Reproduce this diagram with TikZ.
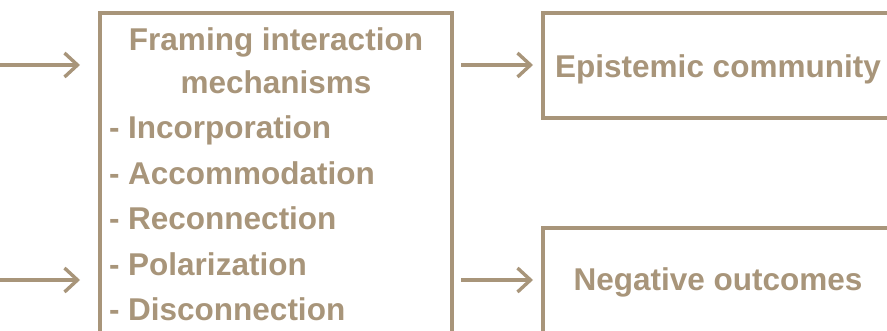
\documentclass[tikz,border=0pt]{standalone}
\usepackage{fontspec}
\setmainfont{Liberation Sans}
\usetikzlibrary{arrows.meta}
\definecolor{tan}{RGB}{168,149,122}
\tikzset{
  frame/.style={draw=tan, line width=3.4pt, rectangle, inner sep=0pt, outer sep=0pt},
  label/.style={text=tan, font=\fontsize{31.5}{36}\selectfont\bfseries, inner sep=0pt, outer sep=0pt},
  flow/.style={draw=tan, line width=3.4pt, -{Straight Barb[length=13pt,width=24pt,line width=3.4pt]}},
}
\begin{document}
\begin{tikzpicture}[x=1pt, y=-1pt]
\useasboundingbox (0,0) rectangle (887,331);
\begin{scope}
\clip (0,0) rectangle (887,331);
% boxes (they run past the frame edges)
\node[frame, minimum width=352pt, minimum height=340pt] (mech) at (276,183) {};
\node[frame, minimum width=360pt, minimum height=105pt] (epi) at (723,65.5) {};
\node[frame, minimum width=360pt, minimum height=130pt] (neg) at (723,293) {};

% texts in the mechanism box
\node[label, anchor=base] (t1) at (276,51) {Framing interaction};
\node[label, anchor=base] (t2) at (276,94) {mechanisms};
\node[label, anchor=base west] (l1) at (109,139) {- Incorporation};
\node[label, anchor=base west] (l2) at (109,185) {- Accommodation};
\node[label, anchor=base west] (l3) at (109,230) {- Reconnection};
\node[label, anchor=base west] (l4) at (109,276) {- Polarization};
\node[label, anchor=base west] (l5) at (109,321) {- Disconnection};

\node[label, anchor=base] (te) at (718,78) {Epistemic community};
\node[label, anchor=base] (tn) at (718,291) {Negative outcomes};

% incoming arrows
\coordinate (in1) at (-5,65);
\coordinate (in2) at (-5,280);
\draw[flow, shorten >=20pt] (in1) -- (in1 -| mech.west);
\draw[flow, shorten >=20pt] (in2) -- (in2 -| mech.west);

% outgoing arrows
\coordinate (o1) at (452,65);
\coordinate (o2) at (452,280);
\draw[flow, shorten <=9pt, shorten >=10pt] (o1) -- (o1 -| epi.west);
\draw[flow, shorten <=9pt, shorten >=10pt] (o2) -- (o2 -| neg.west);
\end{scope}
\end{tikzpicture}
\end{document}
